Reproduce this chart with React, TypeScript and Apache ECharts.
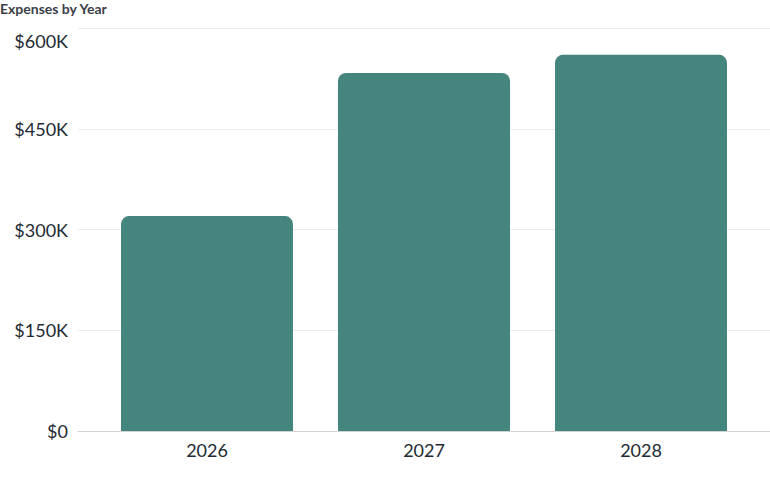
import * as echarts from 'echarts';
import React, { useEffect, useRef } from 'react';

const years = ['2026', '2027', '2028'];
const expenses = [320000, 533000, 560000];
const yTicks = [0, 150000, 300000, 450000, 600000];

const yMax = yTicks[yTicks.length - 1];
const fmt = (v: number) => {
  const s = v === 0 ? '$0' : `$${v / 1000}K`;
  // top label sits below its gridline in the reference
  return v === yMax ? `{top|${s}}` : s;
};

const App: React.FC = () => {
  const chartRef = useRef<HTMLDivElement>(null);

  useEffect(() => {
    if (!chartRef.current) return;
    const chart = echarts.init(chartRef.current, null, { renderer: 'svg' });
    const top = 28;
    const bottom = 477 - 431;
    chart.setOption({
      animation: false,
      textStyle: { fontFamily: 'Lato, sans-serif' },
      title: {
        text: 'Expenses by Year',
        left: 0,
        top: 1,
        padding: 0,
        textStyle: { fontSize: 14, fontWeight: 'bold', color: '#3b404a', fontFamily: 'Lato, sans-serif' },
      },
      grid: [
        { left: 78, right: 0, top, bottom },
        { left: 98.5, right: 20.5, top, bottom },
      ],
      xAxis: [
        {
          type: 'category',
          gridIndex: 0,
          data: years,
          axisLine: { show: true, lineStyle: { color: '#d3d3d3', width: 1 } },
          axisTick: { show: false },
          axisLabel: { show: false },
        },
        {
          type: 'category',
          gridIndex: 1,
          data: years,
          axisLine: { show: false },
          axisTick: { show: false },
          axisLabel: { fontSize: 18, color: '#1e2a33', margin: 10 },
        },
      ],
      yAxis: [
        {
          type: 'value',
          gridIndex: 0,
          min: yTicks[0],
          max: yMax,
          interval: yTicks[1] - yTicks[0],
          axisLine: { show: false },
          axisTick: { show: false },
          axisLabel: {
            fontSize: 18,
            color: '#1e2a33',
            margin: 10,
            formatter: fmt,
            rich: { top: { fontSize: 18, color: '#1e2a33', padding: [26, 0, 0, 0] } },
          },
          splitLine: { lineStyle: { color: '#ebebeb', width: 1 } },
        },
        {
          type: 'value',
          gridIndex: 1,
          min: yTicks[0],
          max: yMax,
          interval: yTicks[1] - yTicks[0],
          show: false,
          splitLine: { show: false },
        },
      ],
      series: [
        {
          type: 'bar',
          xAxisIndex: 1,
          yAxisIndex: 1,
          data: expenses,
          barWidth: 172,
          itemStyle: { color: '#44857d', borderRadius: [8, 8, 0, 0] },
        },
      ],
    });
    return () => {
      chart.dispose();
    };
  }, []);

  return (
    <div
      ref={chartRef}
      style={{ position: 'fixed', left: 0, top: 0, width: 770, height: 477, background: '#fff' }}
    ></div>
  );
};

export default App;
